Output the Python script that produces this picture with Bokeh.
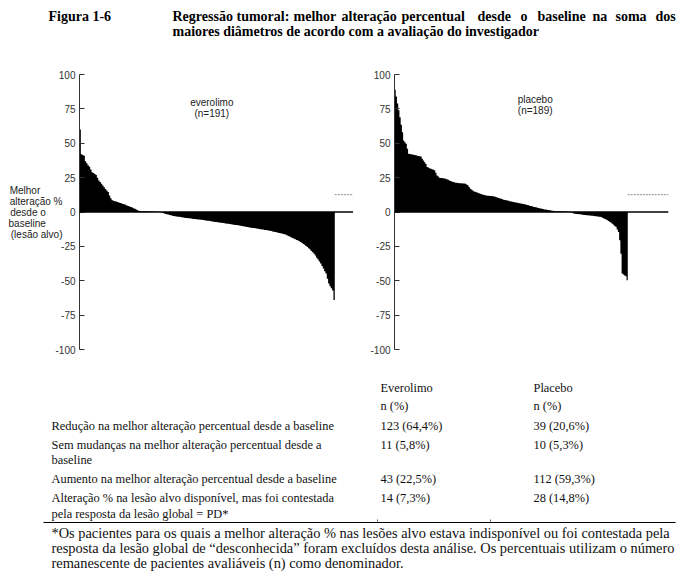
from bokeh.plotting import figure
from bokeh.models import Range1d, Span, Label, ColumnDataSource, FixedTicker
from bokeh.layouts import column, row
from bokeh.embed import file_html
from bokeh.resources import INLINE
from bokeh.core.properties import value

# ---------------- data ----------------
everolimo = [
    60, 42, 41.5, 41, 37, 35.5, 34, 33, 31, 29,
    28.3, 27.6, 27, 25, 23, 21.8, 20.5, 19.2, 18, 16.8,
    15.6, 14.5, 12, 10, 8.5, 8.2, 7.9, 7.6, 7.3, 7,
    6.6, 6.3, 5.9, 5.6, 5.2, 4.8, 4.4, 4, 3.6, 3.2,
    2.8, 2.4, 1.8, 1.2, 0.9, 0.7, 0.6, 0.6, 0.5, 0.5,
    0.5, 0.5, 0.4, 0.4, 0.4, 0.3, 0.3, 0.2, 0.2, 0.1,
    0, -0.4, -0.8, -1.1, -1.4, -1.7, -1.9, -2.2, -2.4, -2.7,
    -2.9, -3.1, -3.2, -3.4, -3.5, -3.7, -3.8, -4.0, -4.1, -4.3,
    -4.4, -4.5, -4.6, -4.8, -4.9, -5.0, -5.1, -5.2, -5.4, -5.5,
    -5.6, -5.7, -5.9, -6.0, -6.1, -6.3, -6.4, -6.6, -6.7, -6.9,
    -7.0, -7.2, -7.3, -7.5, -7.6, -7.8, -7.9, -8.0, -8.2, -8.3,
    -8.5, -8.6, -8.8, -8.9, -9.1, -9.2, -9.4, -9.5, -9.7, -9.9,
    -10.0, -10.2, -10.4, -10.6, -10.7, -10.9, -11.1, -11.2, -11.4, -11.6,
    -11.7, -11.9, -12.0, -12.2, -12.3, -12.5, -12.7, -12.8, -13.0, -13.1,
    -13.3, -13.5, -13.7, -13.9, -14.1, -14.4, -14.6, -14.8, -15.0, -15.3,
    -15.5, -15.7, -16.0, -16.2, -16.6, -17.1, -17.5, -18.0, -18.5, -18.9,
    -19.4, -19.9, -20.4, -20.8, -21.3, -21.8, -22.5, -23.2, -23.9, -24.7,
    -25.4, -26.4, -27.3, -28.3, -29.3, -30.3, -31.7, -33.2, -34.6, -36.0,
    -37.5, -39.3, -41.1, -43.0, -44.8, -48.5, -52, -54, -55.5, -57,
    -64,
]

placebo = [
    89, 84, 79, 74, 69, 63.5, 58, 52, 50.8, 49.6,
    46, 42.4, 42.2, 42, 41.8, 41.6, 41.4, 41.2, 41, 40.8,
    40.6, 40.4, 38.7, 37.5, 36.2, 35, 32.7, 32.3, 31.9, 31.5,
    31.1, 30.7, 30.3, 28.5, 26.6, 25.8, 25, 24.8, 24.7, 24.5,
    24.4, 24.2, 23.8, 23.4, 22.9, 22.5, 22.2, 21.9, 21.6, 21.3,
    21.2, 21.1, 21.0, 20.9, 20.9, 20.8, 20.7, 20.6, 20, 19.4,
    18.2, 17, 16.3, 15.7, 15, 14.7, 14.3, 14.0, 13.6, 13.3,
    13.0, 12.7, 12.4, 12.1, 12.0, 11.9, 11.8, 11.7, 11.6, 11.5,
    11.4, 11.1, 10.8, 10.5, 10.2, 9.9, 9.6, 9.3, 9.0, 8.8,
    8.6, 8.4, 8.2, 7.9, 7.7, 7.5, 7.3, 7.1, 6.9, 6.7,
    6.5, 6.4, 6.2, 6.0, 5.8, 5.6, 5.4, 5.1, 4.9, 4.6,
    4.4, 4.1, 3.9, 3.6, 3.4, 3.2, 3.0, 2.8, 2.5, 2.3,
    2.1, 1.9, 1.8, 1.6, 1.5, 1.3, 1.2, 1.0, 0.9, 0.7,
    0.6, 0.6, 0.5, 0.5, 0.5, 0.5, 0.5, 0.4, 0.4, 0.4,
    0.3, 0.2, 0.1, -0.4, -0.8, -1.2, -1.3, -1.4, -1.5, -1.6,
    -1.7, -1.8, -2.0, -2.1, -2.2, -2.3, -2.4, -2.5, -2.6, -2.7,
    -2.8, -2.9, -3.0, -3.1, -3.3, -3.4, -3.5, -3.6, -4.1, -4.6,
    -5.0, -5.5, -6.0, -6.6, -7.3, -7.9, -8.5, -9.3, -10.1, -10.9,
    -12.7, -14.5, -20.6, -30.3, -44.8, -45.4, -46.1, -46.7, -49.6,
]

y_ticks = [-100, -75, -50, -25, 0, 25, 50, 75, 100]
y_tick_labels = ["-100", "-75", "-50", "-25", "0", "25", "50", "75", "100"]
ref_level = 12.6

panel_titles = [["everolimo", "(n=191)"], ["placebo", "(n=189)"]]
y_label_lines = ["Melhor", "alteração %", "desde o", "baseline", "(lesão alvo)"]

fig_label = "Figura 1-6"
title_line1 = ["Regressão", "tumoral:", "melhor", "alteração", "percentual",
               "desde", "o", "baseline", "na", "soma", "dos"]
title_line2 = "maiores diâmetros de acordo com a avaliação do investigador"

col_headers = ["Everolimo", "Placebo"]
col_sub = ["n (%)", "n (%)"]
row_labels = [
    "Redução na melhor alteração percentual desde a baseline",
    "Sem mudanças na melhor alteração percentual desde a",
    "baseline",
    "Aumento na melhor alteração percentual desde a baseline",
    " Alteração % na lesão alvo disponível, mas foi contestada",
    "pela resposta da lesão global = PD*",
]
everolimo_n = ["123 (64,4%)", "11 (5,8%)", "43 (22,5%)", "14 (7,3%)"]
placebo_n = ["39 (20,6%)", "10 (5,3%)", "112 (59,3%)", "28 (14,8%)"]
footnote = [
    "*Os pacientes para os quais a melhor alteração % nas lesões alvo estava indisponível ou foi contestada pela",
    "resposta da lesão global de \u201cdesconhecida\u201d foram excluídos desta análise. Os percentuais utilizam o número",
    "remanescente de pacientes avaliáveis (n) como denominador.",
]

# ---------------- layout constants ----------------
W = 691
SANS = "Liberation Sans"
SERIF = "Liberation Serif"

# approximate Liberation Sans advance widths (em) used to left-align the
# multi-line axis label (the axis centres each line, so lines are padded)
_SANS_W = {"M": .833, "e": .556, "l": .222, "h": .556, "o": .556, "r": .333,
           "a": .556, "t": .278, "ç": .5, "ã": .556, " ": .278, "%": .889,
           "d": .556, "s": .5, "b": .556, "i": .222, "n": .556, "(": .333,
           ")": .333, "v": .5}


def _w(s):
    return sum(_SANS_W.get(c, .55) for c in s)


def left_aligned(lines):
    wmax = max(_w(s) for s in lines)
    return "\n".join(s + "\u00a0" * int(round((wmax - _w(s)) / .278)) for s in lines)


def blank(height, y0, y1):
    p = figure(width=W, height=height, x_range=Range1d(0, W), y_range=Range1d(y1, y0),
               output_backend="svg", toolbar_location=None,
               x_axis_location=None, y_axis_location=None,
               min_border=0, min_border_left=0, min_border_right=0,
               min_border_top=0, min_border_bottom=0)
    p.grid.visible = False
    p.outline_line_color = None
    p.background_fill_color = "white"
    p.border_fill_color = "white"
    return p


# ---------- title ----------
tp = blank(60, 0, 60)
tstyle = dict(text_font=value(SERIF), text_font_style="bold", text_font_size="14px",
              text_baseline="middle", text_align="left", text_color="black")
tp.text(x=[48], y=[16], text=[fig_label], **tstyle)
line1_x = [172, 236, 293, 341, 401, 477, 520, 537, 592, 615, 655]
tp.text(x=line1_x, y=[16] * len(title_line1), text=title_line1, **tstyle)
tp.text(x=[172], y=[31], text=[title_line2], **tstyle)


# ---------- waterfall panels ----------
def waterfall(vals, xmax, width, bl, br, title_lines, title_xy):
    p = figure(width=width, height=305, x_range=Range1d(0, xmax), y_range=Range1d(-100, 100),
               output_backend="svg", toolbar_location=None, x_axis_location=None,
               min_border_left=bl, min_border_right=br, min_border_top=14, min_border_bottom=16)
    p.grid.visible = False
    p.outline_line_color = None
    ax = p.yaxis[0]
    ax.ticker = FixedTicker(ticks=y_ticks)
    ax.major_label_overrides = dict(zip(y_ticks, y_tick_labels))
    ax.major_tick_in = 5
    ax.major_tick_out = 0
    ax.minor_tick_line_color = None
    ax.axis_line_color = "#333333"
    ax.major_tick_line_color = "#333333"
    ax.major_label_text_font = SANS
    ax.major_label_text_font_size = "10px"
    ax.major_label_text_color = "#333333"
    ax.major_label_standoff = 4
    n = len(vals)
    src = ColumnDataSource(dict(x=list(range(n + 1)), y2=list(vals) + [vals[-1]]))
    p.varea_step(x="x", y1=0, y2="y2", step_mode="after", source=src, fill_color="black")
    p.add_layout(Span(location=0, dimension="width", line_color="black", line_width=1.3))
    p.segment(x0=[n], x1=[xmax], y0=[ref_level], y1=[ref_level],
              line_color="#8a8a8a", line_dash="2 1", line_width=1)
    tx, ty = title_xy
    for k, t in enumerate(title_lines):
        p.add_layout(Label(x=tx, y=ty - k * 8, text=t, text_align="center", text_baseline="middle",
                           text_font=SANS, text_font_size="10px", text_color="#222222"))
    return p


left = waterfall(everolimo, 205, 353, 79, 0, panel_titles[0], (99, 80))
lax = left.yaxis[0]
lax.axis_label = left_aligned(y_label_lines)
lax.axis_label_orientation = "horizontal"
lax.axis_label_text_align = "left"
lax.axis_label_text_font = SANS
lax.axis_label_text_font_style = "normal"
lax.axis_label_text_font_size = "10px"
lax.axis_label_text_color = "#222222"
lax.axis_label_text_line_height = 1.0
lax.axis_label_standoff = -10
right = waterfall(placebo, 222, 338, 41, 23, panel_titles[1], (114, 81.6))

# ---------- table ----------
tb = blank(218, 365, 583)
tf = dict(text_font=value(SERIF), text_font_size="12.4px", text_baseline="middle",
          text_align="left", text_color="#111111")
tb.text(x=[380, 533], y=[387, 387], text=col_headers, **tf)
tb.text(x=[380, 533], y=[405, 405], text=col_sub, **tf)
row_y = [425, 444, 459, 478, 497, 513]
row_x = [51, 51, 51, 51, 51, 51]
tb.text(x=row_x, y=row_y, text=row_labels, **tf)
val_y = [425, 444, 478, 497]
tb.text(x=[380] * 4, y=val_y, text=everolimo_n, **tf)
tb.text(x=[533] * 4, y=val_y, text=placebo_n, **tf)
tb.segment(x0=[43], x1=[675], y0=[522], y1=[522], line_color="black", line_width=1.2)
tb.segment(x0=[377, 490], x1=[377, 490], y0=[519, 519], y1=[521, 521], line_color="#555555", line_width=1)
ff = dict(text_font=value(SERIF), text_font_size="14.4px", text_baseline="middle",
          text_align="left", text_color="#111111")
tb.text(x=[51, 51, 51], y=[532, 547, 562], text=footnote, **ff)

layout = column(tp, row(left, right), tb)
open("out.html", "w").write(file_html(layout, INLINE))
